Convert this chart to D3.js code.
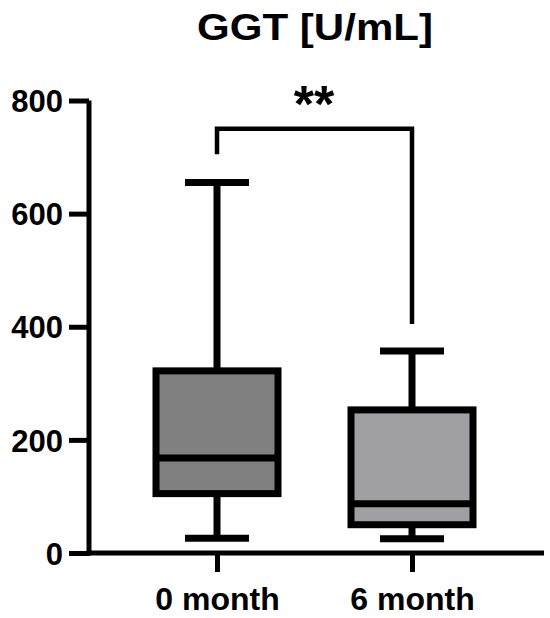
<!DOCTYPE html>
<html>
<head>
<meta charset="utf-8">
<script src="https://cdn.jsdelivr.net/npm/d3@7"></script>
<style>
  body { margin: 0; background: #fff; }
  text { font-family: "Liberation Sans", Arial, sans-serif; font-weight: bold; }
</style>
</head>
<body>
<script>
var groups = ["0 month", "6 month"];
var whiskerMin = [26, 25];
var q1 = [105, 50];
var median = [168, 87];
var q3 = [322, 253];
var whiskerMax = [655, 357];
var fills = ["#808080", "#a0a0a4"];
var yTicks = [0, 200, 400, 600, 800];
var sigLabel = "**";
var sigLeft = 705, sigTop = 750, sigRight = 405;

var w = 550, h = 618;
var svg = d3.select("body").append("svg")
    .attr("width", w)
    .attr("height", h);

var y = d3.scaleLinear().domain([0, 800]).range([553, 100.5]);
var x = d3.scalePoint().domain(groups).range([217, 412]);
var boxW = 122, capW = 64;

svg.append("text")
    .attr("x", 315).attr("y", 40)
    .attr("text-anchor", "middle")
    .attr("font-size", "36px")
    .attr("textLength", 236)
    .attr("lengthAdjust", "spacingAndGlyphs")
    .text("GGT [U/mL]");

// y axis
var yAxis = svg.append("g")
    .attr("transform", "translate(89,0)")
    .call(d3.axisLeft(y).tickValues(yTicks).tickSize(20).tickPadding(6));
yAxis.select(".domain").attr("stroke", "#000").attr("stroke-width", 5)
    .attr("d", "M0," + y(800) + "V" + (y(0) + 2.5));
yAxis.selectAll(".tick line").attr("stroke", "#000").attr("stroke-width", 5);
yAxis.selectAll(".tick text").attr("font-size", "31px").attr("fill", "#000")
    .attr("dy", "0.36em");

// x axis
var xAxis = svg.append("g")
    .attr("transform", "translate(0,553)")
    .call(d3.axisBottom(x).tickSize(19).tickPadding(10));
xAxis.select(".domain").attr("stroke", "#000").attr("stroke-width", 5)
    .attr("d", "M86.5,0H544");
xAxis.selectAll(".tick line").attr("stroke", "#000").attr("stroke-width", 5);
xAxis.selectAll(".tick text").attr("font-size", "32px").attr("fill", "#000")
    .attr("font-family", "'Open Sans', 'Liberation Sans', sans-serif")
    .attr("font-weight", "bold").attr("dy", "0.88em");

var idx = d3.range(groups.length);
var box = svg.selectAll("g.box").data(idx).enter().append("g").attr("class", "box");

// whiskers
box.append("line")
    .attr("x1", function(i) { return x(groups[i]); })
    .attr("x2", function(i) { return x(groups[i]); })
    .attr("y1", function(i) { return y(whiskerMax[i]); })
    .attr("y2", function(i) { return y(q3[i]); })
    .attr("stroke", "#000").attr("stroke-width", 7);
box.append("line")
    .attr("x1", function(i) { return x(groups[i]); })
    .attr("x2", function(i) { return x(groups[i]); })
    .attr("y1", function(i) { return y(q1[i]); })
    .attr("y2", function(i) { return y(whiskerMin[i]); })
    .attr("stroke", "#000").attr("stroke-width", 7);
[whiskerMax, whiskerMin].forEach(function(arr) {
  box.append("line")
      .attr("x1", function(i) { return x(groups[i]) - capW / 2; })
      .attr("x2", function(i) { return x(groups[i]) + capW / 2; })
      .attr("y1", function(i) { return y(arr[i]); })
      .attr("y2", function(i) { return y(arr[i]); })
      .attr("stroke", "#000").attr("stroke-width", 7);
});
box.append("rect")
    .attr("x", function(i) { return x(groups[i]) - boxW / 2; })
    .attr("y", function(i) { return y(q3[i]); })
    .attr("width", boxW)
    .attr("height", function(i) { return y(q1[i]) - y(q3[i]); })
    .attr("fill", function(i) { return fills[i]; })
    .attr("stroke", "#000").attr("stroke-width", 7);
box.append("line")
    .attr("x1", function(i) { return x(groups[i]) - boxW / 2; })
    .attr("x2", function(i) { return x(groups[i]) + boxW / 2; })
    .attr("y1", function(i) { return y(median[i]); })
    .attr("y2", function(i) { return y(median[i]); })
    .attr("stroke", "#000").attr("stroke-width", 7);

// significance bracket
svg.append("path")
    .attr("d", "M" + x(groups[0]) + "," + y(sigLeft) + "V" + y(sigTop) +
               "H" + x(groups[1]) + "V" + y(sigRight))
    .attr("fill", "none").attr("stroke", "#000").attr("stroke-width", 4.5);
svg.append("text")
    .attr("x", (x(groups[0]) + x(groups[1])) / 2 - 0.5)
    .attr("y", 122)
    .attr("text-anchor", "middle")
    .attr("font-size", "52px")
    .attr("font-family", "'DejaVu Sans', sans-serif")
    .text(sigLabel);
</script>
</body>
</html>
